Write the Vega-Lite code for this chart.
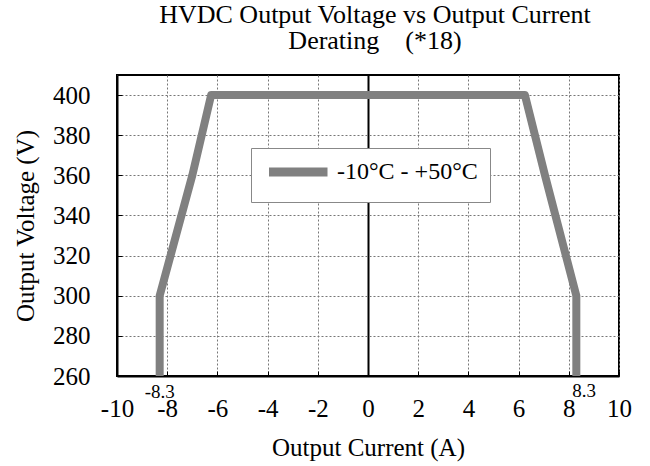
{
  "$schema": "https://vega.github.io/schema/vega-lite/v6.json",
  "width": 502,
  "height": 301,
  "autosize": {"type": "none"},
  "padding": {"left": 117, "top": 75, "right": 31, "bottom": 90},
  "background": "white",
  "title": {
    "text": ["HVDC Output Voltage vs Output Current", "Derating\u00a0\u00a0\u00a0 (*18)"],
    "font": "Liberation Serif",
    "fontSize": 26,
    "fontWeight": "normal",
    "color": "black",
    "anchor": "middle",
    "dx": 7,
    "offset": 21,
    "lineHeight": 26
  },
  "config": {
    "view": {"stroke": "black", "strokeWidth": 2},
    "font": "Liberation Serif"
  },
  "datasets": {
    "curve": [
      {"i": 1, "current": -8.3, "voltage": 260, "series": "-10°C - +50°C"},
      {"i": 2, "current": -8.3, "voltage": 300, "series": "-10°C - +50°C"},
      {"i": 3, "current": -7.0, "voltage": 360, "series": "-10°C - +50°C"},
      {"i": 4, "current": -6.25, "voltage": 400, "series": "-10°C - +50°C"},
      {"i": 5, "current": 6.25, "voltage": 400, "series": "-10°C - +50°C"},
      {"i": 6, "current": 7.05, "voltage": 360, "series": "-10°C - +50°C"},
      {"i": 7, "current": 8.3, "voltage": 300, "series": "-10°C - +50°C"},
      {"i": 8, "current": 8.3, "voltage": 260, "series": "-10°C - +50°C"}
    ],
    "marks": [
      {"current": -8.3, "voltage": 260, "text": "-8.3", "side": "left"},
      {"current": 8.3, "voltage": 260, "text": "8.3", "side": "right"}
    ]
  },
  "layer": [
    {
      "data": {"name": "curve"},
      "mark": {"type": "line", "strokeWidth": 8, "strokeJoin": "round", "strokeCap": "butt"},
      "encoding": {
        "x": {
          "field": "current",
          "type": "quantitative",
          "scale": {"domain": [-10, 10], "nice": false, "zero": false},
          "axis": {
            "values": [-10, -9, -8, -7, -6, -5, -4, -3, -2, -1, 0, 1, 2, 3, 4, 5, 6, 7, 8, 9, 10],
            "labelExpr": "datum.value % 2 === 0 ? '' + datum.value : ''",
            "grid": true,
            "gridColor": {"condition": {"test": "datum.value === 0", "value": "black"}, "value": "#777777"},
            "gridDash": {"condition": {"test": "datum.value === 0", "value": []}, "value": [2, 2]},
            "gridWidth": {"condition": {"test": "datum.value === 0", "value": 2}, "value": 1},
            "domainColor": "black",
            "domainWidth": 2,
            "tickColor": "black",
            "tickSize": -5,
            "labelFont": "Liberation Serif",
            "labelFontSize": 25,
            "labelColor": "black",
            "labelPadding": 25,
            "labelFlush": false,
            "labelOverlap": false,
            "title": "Output Current (A)",
            "titleFont": "Liberation Serif",
            "titleFontSize": 25,
            "titleFontWeight": "normal",
            "titleColor": "black",
            "titlePadding": 14
          }
        },
        "y": {
          "field": "voltage",
          "type": "quantitative",
          "scale": {"domain": [260, 410], "nice": false, "zero": false},
          "axis": {
            "values": [260, 280, 300, 320, 340, 360, 380, 400],
            "labelExpr": "'' + datum.value",
            "grid": true,
            "gridColor": "#777777",
            "gridDash": [2, 2],
            "gridWidth": 1,
            "domainColor": "black",
            "domainWidth": 2,
            "tickColor": "black",
            "tickSize": -5,
            "labelFont": "Liberation Serif",
            "labelFontSize": 25,
            "labelColor": "black",
            "labelPadding": 32,
            "labelFlush": false,
            "labelOverlap": false,
            "title": "Output Voltage (V)",
            "titleFont": "Liberation Serif",
            "titleFontSize": 25,
            "titleFontWeight": "normal",
            "titleColor": "black",
            "titlePadding": 14
          }
        },
        "order": {"field": "i", "type": "quantitative"},
        "color": {
          "field": "series",
          "type": "nominal",
          "scale": {"range": ["#808080"]},
          "legend": {
            "title": null,
            "orient": "none",
            "legendX": 134,
            "legendY": 73,
            "fillColor": "white",
            "strokeColor": "#888888",
            "padding": 12,
            "symbolType": "M-1.2,0H10.5",
            "symbolSize": 100,
            "symbolStrokeWidth": 9,
            "symbolFillColor": "transparent",
            "labelOffset": 50,
            "labelFont": "Liberation Serif",
            "labelFontSize": 24,
            "labelColor": "black",
            "labelLimit": 300
          }
        }
      }
    },
    {
      "data": {"name": "marks"},
      "transform": [{"filter": "datum.side === 'left'"}],
      "mark": {"type": "text", "font": "Liberation Serif", "fontSize": 19, "color": "black", "align": "center", "baseline": "middle", "dy": 16},
      "encoding": {
        "x": {"field": "current", "type": "quantitative"},
        "y": {"field": "voltage", "type": "quantitative"},
        "text": {"field": "text"}
      }
    },
    {
      "data": {"name": "marks"},
      "transform": [{"filter": "datum.side === 'right'"}],
      "mark": {"type": "text", "font": "Liberation Serif", "fontSize": 19, "color": "black", "align": "left", "baseline": "middle", "dx": -4, "dy": 15},
      "encoding": {
        "x": {"field": "current", "type": "quantitative"},
        "y": {"field": "voltage", "type": "quantitative"},
        "text": {"field": "text"}
      }
    }
  ]
}
